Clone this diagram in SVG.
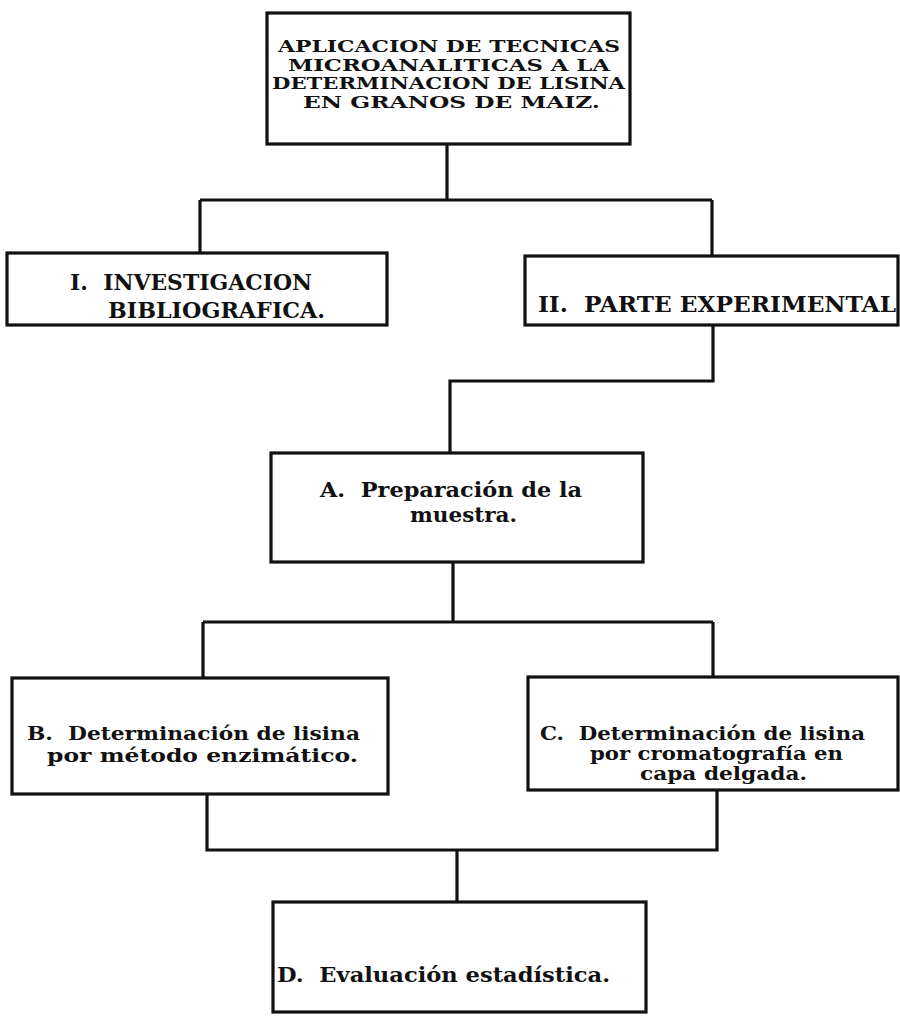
<svg xmlns="http://www.w3.org/2000/svg" width="900" height="1016" viewBox="0 0 900 1016">
<style>
.box{fill:#fff;stroke:#111;stroke-width:3.2}
.ln{fill:none;stroke:#111;stroke-width:3.2;stroke-linejoin:miter}
.t{font-family:"DejaVu Serif","Liberation Serif",serif;font-weight:bold;fill:#111;white-space:pre}
.cap{font-size:17.5px}
.big{font-size:22px}
.mid{font-size:20px}
.sm{font-size:18px}
</style>
<rect width="900" height="1016" fill="#fff"/>
<g id="connectors">
<path class="ln" d="M447,144 V200 M200,200 H712 M200,200 V253 M712,200 V256"/>
<path class="ln" d="M713,325 V381 H450 V453"/>
<path class="ln" d="M453,562 V622 M203,622 H713 M203,622 V678 M713,622 V677"/>
<path class="ln" d="M207,794 V850 H717 V790 M457,850 V902"/>
</g>
<g id="node-top">
<rect class="box" x="267" y="13" width="363" height="131"/>
<text class="t cap" x="278" y="52" textLength="342" lengthAdjust="spacingAndGlyphs">APLICACION DE TECNICAS</text>
<text class="t cap" x="288" y="70.5" textLength="322" lengthAdjust="spacingAndGlyphs">MICROANALITICAS A LA</text>
<text class="t cap" x="272" y="89" textLength="353" lengthAdjust="spacingAndGlyphs">DETERMINACION DE LISINA</text>
<text class="t cap" x="303" y="108" textLength="297" lengthAdjust="spacingAndGlyphs">EN GRANOS DE MAIZ.</text>
</g>
<g id="node-I">
<rect class="box" x="7" y="253" width="380" height="72"/>
<text class="t big" x="70" y="290" textLength="242" lengthAdjust="spacingAndGlyphs">I.  INVESTIGACION</text>
<text class="t big" x="108" y="318" textLength="217" lengthAdjust="spacingAndGlyphs">BIBLIOGRAFICA.</text>
</g>
<g id="node-II">
<rect class="box" x="525" y="256" width="373" height="69"/>
<text class="t big" x="538" y="312" textLength="358" lengthAdjust="spacingAndGlyphs">II.  PARTE EXPERIMENTAL</text>
</g>
<g id="node-A">
<rect class="box" x="271" y="453" width="372" height="109"/>
<text class="t mid" x="320" y="497" textLength="262" lengthAdjust="spacingAndGlyphs">A.  Preparación de la</text>
<text class="t mid" x="410" y="522" textLength="107" lengthAdjust="spacingAndGlyphs">muestra.</text>
</g>
<g id="node-B">
<rect class="box" x="12" y="678" width="376" height="116"/>
<text class="t sm" x="27" y="740" textLength="333" lengthAdjust="spacingAndGlyphs">B.  Determinación de lisina</text>
<text class="t sm" x="47" y="762" textLength="311" lengthAdjust="spacingAndGlyphs">por método enzimático.</text>
</g>
<g id="node-C">
<rect class="box" x="528" y="677" width="370" height="113"/>
<text class="t sm" x="540" y="740" textLength="325" lengthAdjust="spacingAndGlyphs">C.  Determinación de lisina</text>
<text class="t sm" x="590" y="760" textLength="253" lengthAdjust="spacingAndGlyphs">por cromatografía en</text>
<text class="t sm" x="640" y="780" textLength="167" lengthAdjust="spacingAndGlyphs">capa delgada.</text>
</g>
<g id="node-D">
<rect class="box" x="273" y="902" width="373" height="110"/>
<text class="t mid" x="277" y="982" textLength="333" lengthAdjust="spacingAndGlyphs">D.  Evaluación estadística.</text>
</g>
</svg>
